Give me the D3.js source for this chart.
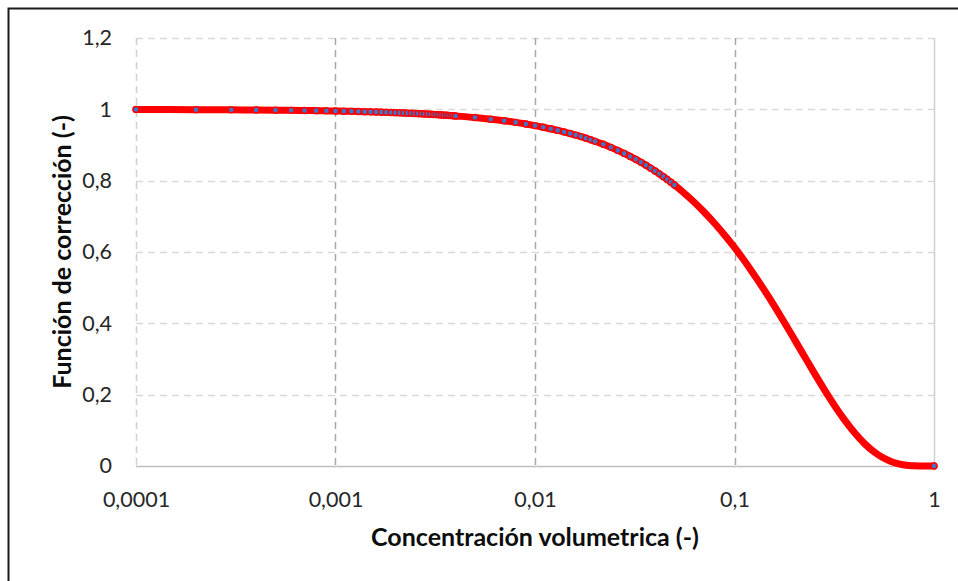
<!DOCTYPE html>
<html>
<head>
<meta charset="utf-8">
<script src="https://cdn.jsdelivr.net/npm/d3@7"></script>
<style>
  body { margin: 0; background: #fff; }
  svg { display: block; font-family: Lato, 'Open Sans', sans-serif; }
</style>
</head>
<body>
<div id="app"></div>
<script>
// concentration values (-), with the correction function at each
const conc = [
  0.0001, 0.0002, 0.0003, 0.0004, 0.0005, 0.0006, 0.0007, 0.0008, 0.0009,
  0.0010, 0.0011, 0.0012, 0.0013, 0.0014, 0.0015, 0.0016, 0.0017, 0.0018, 0.0019,
  0.0020, 0.0021, 0.0022, 0.0023, 0.0024, 0.0025, 0.0026, 0.0027, 0.0028, 0.0029,
  0.0030, 0.0031, 0.0032, 0.0033, 0.0034, 0.0035, 0.0036, 0.0037, 0.0038, 0.0039, 0.0040,
  0.005, 0.006, 0.007, 0.008, 0.009, 0.010, 0.011, 0.012, 0.013, 0.014, 0.015,
  0.016, 0.017, 0.018, 0.019, 0.020, 0.022, 0.024, 0.026, 0.028, 0.030, 0.032,
  0.034, 0.036, 0.038, 0.040, 0.042, 0.044, 0.046, 0.048, 0.050,
  0.055, 0.06, 0.07, 0.08, 0.09, 0.10, 0.11, 0.12, 0.13, 0.14, 0.15, 0.16, 0.18,
  0.20, 0.22, 0.25, 0.28, 0.30, 0.35, 0.40, 0.45, 0.50, 0.55, 0.60, 0.65, 0.70,
  0.75, 0.80, 0.85, 0.90, 1.00
]
const fcorr = [
  0.9995, 0.9991, 0.9986, 0.9981, 0.9977, 0.9972, 0.9967, 0.9963, 0.9958,
  0.9954, 0.9949, 0.9944, 0.9940, 0.9935, 0.9930, 0.9926, 0.9921, 0.9916, 0.9912,
  0.9907, 0.9902, 0.9898, 0.9893, 0.9889, 0.9884, 0.9879, 0.9875, 0.9870, 0.9866,
  0.9861, 0.9856, 0.9852, 0.9847, 0.9843, 0.9838, 0.9834, 0.9829, 0.9825, 0.9820, 0.9815,
  0.9770, 0.9724, 0.9679, 0.9634, 0.9589, 0.9544, 0.9499, 0.9455, 0.9410, 0.9366, 0.9322,
  0.9278, 0.9235, 0.9191, 0.9148, 0.9103, 0.9019, 0.8934, 0.8849, 0.8765, 0.8679, 0.8597,
  0.8514, 0.8432, 0.8351, 0.8271, 0.8191, 0.8112, 0.8034, 0.7956, 0.7878,
  0.7687, 0.7500, 0.7136, 0.6786, 0.6450, 0.6127, 0.5817, 0.5519, 0.5233, 0.4959, 0.4697, 0.4445, 0.3974,
  0.3543, 0.3150, 0.2625, 0.2171, 0.1904, 0.1349, 0.0930, 0.0620, 0.0398, 0.0244, 0.0141, 0.0076, 0.0037,
  0.0016, 0.0006, 0.0002, 0.0000, 0.0000
]
// tick values and their labels (Spanish decimal comma)
const xTicks = [0.0001, 0.001, 0.01, 0.1, 1]
const xTickLabels = ['0,0001', '0,001', '0,01', '0,1', '1']
const yTicks = [0, 0.2, 0.4, 0.6, 0.8, 1, 1.2]
const yTickLabels = ['0', '0,2', '0,4', '0,6', '0,8', '1', '1,2']

const width = 958
const height = 581
let margin = { top: 38, right: 24, bottom: 115, left: 136 }
let plotW = width - margin.left - margin.right
let plotH = height - margin.top - margin.bottom

const svg = d3.select('#app').append('svg')
  .attr('width', width)
  .attr('height', height)

// chart frame (cropped: only left and top edges visible)
svg.append('path')
  .attr('d', `M8.5,${height} V8.5 H${width}`)
  .attr('fill', 'none')
  .attr('stroke', '#1a1a1a')
  .attr('stroke-width', 2)

const g = svg.append('g')
  .attr('transform', `translate(${margin.left},${margin.top})`)

let x = d3.scaleLog().domain([0.0001, 1]).range([0, plotW])
let y = d3.scaleLinear().domain([0, 1.2]).range([plotH, 0])

// horizontal gridlines
g.selectAll('line.hgrid')
  .data(yTicks.filter(d => d > 0))
  .enter()
  .append('line')
  .attr('class', 'hgrid')
  .attr('x1', 0)
  .attr('x2', plotW)
  .attr('y1', d => Math.round(y(d)) + 0.5)
  .attr('y2', d => Math.round(y(d)) + 0.5)
  .attr('stroke', '#d9d9d9')
  .attr('stroke-width', 1.5)
  .attr('stroke-dasharray', '7,5')

// vertical gridlines (first one lighter, last one solid)
g.selectAll('line.vgrid')
  .data(xTicks)
  .enter()
  .append('line')
  .attr('class', 'vgrid')
  .attr('x1', d => Math.round(x(d)) + 0.5)
  .attr('x2', d => Math.round(x(d)) + 0.5)
  .attr('y1', 0)
  .attr('y2', plotH)
  .attr('stroke', (d, i) => (i === 0 || i === xTicks.length - 1) ? '#d0d0d0' : '#a6a6a6')
  .attr('stroke-width', 1.5)
  .attr('stroke-dasharray', (d, i) => i === xTicks.length - 1 ? null : '7,5')

// x axis line
g.append('line')
  .attr('x1', 0)
  .attr('x2', plotW)
  .attr('y1', plotH + 0.5)
  .attr('y2', plotH + 0.5)
  .attr('stroke', '#bfbfbf')
  .attr('stroke-width', 1.5)

// axes: labels only
let xAxis = d3.axisBottom(x)
  .tickValues(xTicks)
  .tickFormat((d, i) => xTickLabels[i])
  .tickSize(0)
  .tickPadding(26)
const gx = g.append('g').attr('transform', `translate(0,${plotH})`).call(xAxis)

let yAxis = d3.axisLeft(y)
  .tickValues(yTicks)
  .tickFormat((d, i) => yTickLabels[i])
  .tickSize(0)
  .tickPadding(24)
const gy = g.append('g').call(yAxis)

gx.select('.domain').remove()
gy.select('.domain').remove()
svg.selectAll('.tick text')
  .attr('font-family', 'Lato, sans-serif')
  .attr('font-size', 21.5)
  .attr('fill', '#262626')

const data = conc.map((c, i) => ({ c: c, f: fcorr[i] }))

// red series line
const line = d3.line()
  .x(d => x(d.c))
  .y(d => y(d.f))
  .curve(d3.curveMonotoneX)

g.append('path')
  .datum(data)
  .attr('d', line)
  .attr('fill', 'none')
  .attr('stroke', '#ff0000')
  .attr('stroke-width', 7)
  .attr('stroke-linejoin', 'round')
  .attr('stroke-linecap', 'round')

// markers: blue fill, red border; past 0.05 they merge into the red band
g.selectAll('circle')
  .data(data.filter((d, i) => d.c <= 0.05 || i === data.length - 1))
  .enter()
  .append('circle')
  .attr('cx', d => x(d.c))
  .attr('cy', d => y(d.f))
  .attr('r', 3)
  .attr('fill', '#4472c4')
  .attr('stroke', '#ff0000')
  .attr('stroke-width', 1.4)

// axis titles
svg.append('text')
  .attr('x', margin.left + plotW / 2)
  .attr('y', 546)
  .attr('text-anchor', 'middle')
  .attr('font-size', 25)
  .attr('font-weight', 'bold')
  .attr('fill', '#0d0d0d')
  .text('Concentración volumetrica (-)')

svg.append('text')
  .attr('transform', `translate(71,${margin.top + plotH / 2}) rotate(-90)`)
  .attr('text-anchor', 'middle')
  .attr('font-size', 25)
  .attr('font-weight', 'bold')
  .attr('fill', '#0d0d0d')
  .text('Función de corrección (-)')
</script>
</body>
</html>
